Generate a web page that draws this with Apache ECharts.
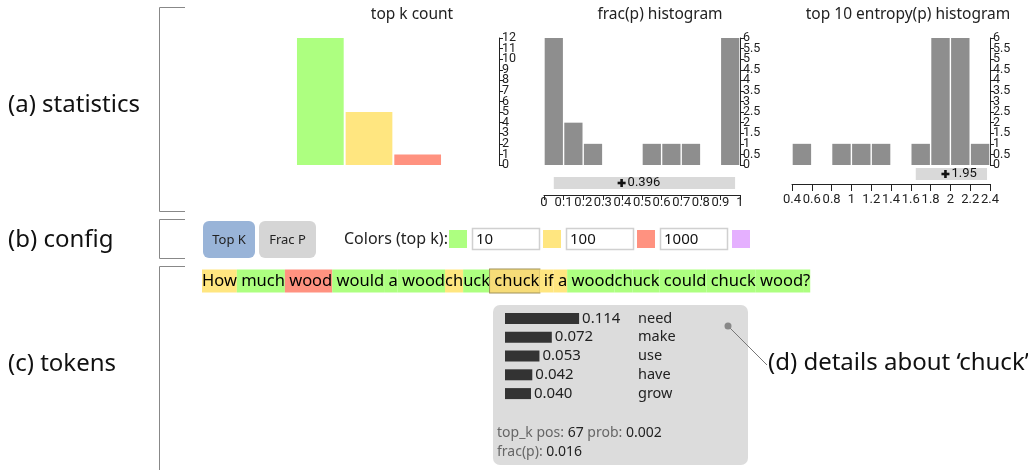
<!DOCTYPE html>
<html>
<head>
<meta charset="utf-8">
<script src="https://cdn.jsdelivr.net/npm/echarts@6/dist/echarts.min.js"></script>
<style>
html,body{margin:0;padding:0;background:#fff;}
#c{width:1028px;height:470px;}
</style>
</head>
<body>
<div id="c"></div>
<script>
// ---------------- data ----------------
const topkBins = ['10', '100', '1000'];
const topkCounts = [12, 5, 1];
const topkColors = ['#ADFF80', '#FFE680', '#FF9280', '#E5B0FF'];
const topkThresholds = ['10', '100', '1000'];
const topkTicks = ['0','1','2','3','4','5','6','7','8','9','10','11','12'];

const fracBins = ['0-0.1','0.1-0.2','0.2-0.3','0.3-0.4','0.4-0.5','0.5-0.6','0.6-0.7','0.7-0.8','0.8-0.9','0.9-1'];
const fracCounts = [6, 2, 1, 0, 0, 1, 1, 1, 0, 6];
const fracSummary = [0.05, 0.975, 0.396];      // [low, high, mean]

const entBins = ['0.4','0.6','0.8','1.0','1.2','1.4','1.6','1.8','2.0','2.2'];
const entCounts = [1, 0, 1, 1, 1, 0, 1, 6, 6, 1];
const entSummary = [1.65, 2.37, 1.95];         // [low, high, mean]

const histTicks = ['0','0.5','1','1.5','2','2.5','3','3.5','4','4.5','5','5.5','6'];

const tokens = ['How', ' much', ' wood', ' would', ' a', ' wood', 'ch', 'uck', ' chuck', ' if', ' a', ' wood', 'ch', 'uck', ' could', ' chuck', ' wood', '?'];
const tokenBin = [1, 0, 2, 0, 0, 0, 1, 0, 1, 1, 1, 0, 0, 0, 0, 0, 0, 0];
const selectedToken = 8;

const predWords = ['need', 'make', 'use', 'have', 'grow'];
const predProbs = [0.114, 0.072, 0.053, 0.042, 0.040];
const detailPos = 67, detailProb = '0.002', detailFrac = '0.016';

// ---------------- build ----------------
const FONT = '"Noto Sans", "Open Sans", sans-serif';
const AXF = 'Roboto, "Noto Sans", sans-serif';
const chart = echarts.init(document.getElementById('c'), null, {renderer: 'canvas'});

function summaryRender(offTop, offBot) {
  return function (params, api) {
    const lo = api.value(0), hi = api.value(1), m = api.value(2);
    const p0 = api.coord([lo, 0]), p1 = api.coord([hi, 0]), pm = api.coord([m, 0]);
    const y0 = p0[1] + offTop, y1 = p0[1] + offBot, ym = (y0 + y1) / 2;
    return {
      type: 'group',
      children: [
        {type: 'rect', shape: {x: p0[0], y: y0, width: p1[0] - p0[0], height: y1 - y0}, style: {fill: '#d9d9d9'}},
        {type: 'rect', shape: {x: pm[0] - 4, y: ym - 1.3, width: 8, height: 2.6}, style: {fill: '#111'}},
        {type: 'rect', shape: {x: pm[0] - 1.3, y: ym - 4, width: 2.6, height: 8}, style: {fill: '#111'}},
        {type: 'text', x: pm[0] + 6, y: ym, style: {text: String(m), fill: '#111', font: '13px ' + AXF, textVerticalAlign: 'middle'}}
      ]
    };
  };
}

const axisLineStyle = {lineStyle: {color: '#222', width: 1}};
// hidden value axis that scales the bars
const yValueAxis = (gi, max) => ({type: 'value', gridIndex: gi, min: 0, max: max, show: false});
// visible tick-label axis drawn on the right side (every tick labelled)
const yTickAxis = (gi, ticks, offset) => ({
  type: 'category', gridIndex: gi, data: ticks, boundaryGap: false, position: 'right', offset: offset,
  axisLine: Object.assign({show: true}, axisLineStyle),
  axisTick: {show: true, length: 4, interval: 0, lineStyle: {color: '#222'}},
  splitLine: {show: false},
  axisLabel: {interval: 0, margin: 3, color: '#222', fontSize: 12.5, fontFamily: AXF, lineHeight: 9}
});

// token rich text
const rich = {};
let tokText = '';
tokens.forEach((t, i) => {
  const key = 't' + i;
  rich[key] = {
    backgroundColor: topkColors[tokenBin[i]],
    padding: [3, 0, 3, 0],
    fontSize: 16.5, fontFamily: FONT, color: '#111', lineHeight: 22
  };
  if (i === selectedToken) {
    rich[key].backgroundColor = '#F6DC78';
    rich[key].borderColor = '#A0925A';
    rich[key].borderWidth = 1;
  }
  tokText += '{' + key + '|' + t + '}';
});

const graphics = [
  // section brackets
  {type: 'polyline', shape: {points: [[185, 7.5], [159.5, 7.5], [159.5, 211.5], [185, 211.5]]}, style: {stroke: '#888', lineWidth: 1, fill: null}},
  {type: 'polyline', shape: {points: [[185, 219.5], [159.5, 219.5], [159.5, 258.5], [185, 258.5]]}, style: {stroke: '#888', lineWidth: 1, fill: null}},
  {type: 'polyline', shape: {points: [[185, 266.5], [159.5, 266.5], [159.5, 470]]}, style: {stroke: '#888', lineWidth: 1, fill: null}},
  {type: 'text', x: 8, y: 105, style: {text: '(a) statistics', font: '24px ' + FONT, fill: '#111', textVerticalAlign: 'middle'}},
  {type: 'text', x: 8, y: 240, style: {text: '(b) config', font: '24px ' + FONT, fill: '#111', textVerticalAlign: 'middle'}},
  {type: 'text', x: 8, y: 364, style: {text: '(c) tokens', font: '24px ' + FONT, fill: '#111', textVerticalAlign: 'middle'}},
  // titles
  {type: 'text', x: 412, y: 15, style: {text: 'top k count', font: '15.5px ' + FONT, fill: '#222', textAlign: 'center', textVerticalAlign: 'middle'}},
  {type: 'text', x: 660, y: 15, style: {text: 'frac(p) histogram', font: '15.5px ' + FONT, fill: '#222', textAlign: 'center', textVerticalAlign: 'middle'}},
  {type: 'text', x: 908, y: 15, style: {text: 'top 10 entropy(p) histogram', font: '15.5px ' + FONT, fill: '#222', textAlign: 'center', textVerticalAlign: 'middle'}},
  // config buttons
  {type: 'rect', shape: {x: 203, y: 221, width: 52, height: 37, r: 6}, style: {fill: '#99B4D8'}},
  {type: 'text', x: 229, y: 240, style: {text: 'Top K', font: '13px ' + FONT, fill: '#222', textAlign: 'center', textVerticalAlign: 'middle'}},
  {type: 'rect', shape: {x: 259, y: 221, width: 57, height: 37, r: 6}, style: {fill: '#D5D5D5'}},
  {type: 'text', x: 287.5, y: 240, style: {text: 'Frac P', font: '13px ' + FONT, fill: '#222', textAlign: 'center', textVerticalAlign: 'middle'}},
  {type: 'text', x: 344, y: 239, style: {text: 'Colors (top k):', font: '16px ' + FONT, fill: '#222', textVerticalAlign: 'middle'}},
  // token sentence
  {type: 'text', x: 202, y: 270, style: {text: tokText, rich: rich, font: '16.5px ' + FONT, textVerticalAlign: 'top'}},
  // details box
  {type: 'rect', shape: {x: 493, y: 305, width: 255, height: 160, r: 7}, style: {fill: '#DCDCDC'}, z: -1},
  {type: 'text', x: 497, y: 433, style: {
    text: '{l|top_k pos: }{v|' + detailPos + '}{l| prob: }{v|' + detailProb + '}',
    rich: {l: {fill: '#666', fontSize: 14, fontFamily: FONT}, v: {fill: '#222', fontSize: 14, fontFamily: FONT}},
    textVerticalAlign: 'middle'}},
  {type: 'text', x: 497, y: 452, style: {
    text: '{l|frac(p): }{v|' + detailFrac + '}',
    rich: {l: {fill: '#666', fontSize: 14, fontFamily: FONT}, v: {fill: '#222', fontSize: 14, fontFamily: FONT}},
    textVerticalAlign: 'middle'}},
  // callout
  {type: 'line', shape: {x1: 728, y1: 326, x2: 767, y2: 365}, style: {stroke: '#777', lineWidth: 1}},
  {type: 'circle', shape: {cx: 728, cy: 326, r: 3.5}, style: {fill: '#888'}},
  {type: 'text', x: 768, y: 363, style: {text: '(d) details about \u2018chuck\u2019', font: '24px ' + FONT, fill: '#111', textVerticalAlign: 'middle'}}
];

// colour swatches + threshold inputs
const swX = [449, 543, 637, 732];
const inX = [472, 566, 660];
topkColors.forEach((c, i) => {
  graphics.push({type: 'rect', shape: {x: swX[i], y: 230, width: 18, height: 18}, style: {fill: c}});
});
topkThresholds.forEach((t, i) => {
  graphics.push({type: 'rect', shape: {x: inX[i] + 0.5, y: 228.5, width: 67, height: 21}, style: {fill: '#fff', stroke: '#D0D0D0', lineWidth: 1.5}});
  graphics.push({type: 'text', x: inX[i] + 4, y: 239.5, style: {text: t, font: '15px ' + FONT, fill: '#111', textVerticalAlign: 'middle'}});
});

const option = {
  animation: false,
  backgroundColor: '#fff',
  grid: [
    {left: 296, top: 38, width: 146, height: 127, outerBoundsMode: 'none'},
    {left: 544, top: 38, width: 196, height: 127, outerBoundsMode: 'none'},
    {left: 792, top: 38, width: 198, height: 127, outerBoundsMode: 'none'},
    {left: 505, top: 309, width: 78, height: 94, outerBoundsMode: 'none'}
  ],
  xAxis: [
    {type: 'category', gridIndex: 0, data: topkBins, show: false},
    {type: 'category', gridIndex: 1, data: fracBins, show: false},
    {type: 'value', gridIndex: 1, min: 0, max: 1, interval: 0.1, position: 'bottom', offset: 30,
      axisLine: Object.assign({show: true}, axisLineStyle), axisTick: {show: true, length: 5, lineStyle: {color: '#222'}},
      splitLine: {show: false},
      axisLabel: {color: '#222', fontSize: 13, fontFamily: AXF, margin: 1, showMinLabel: true, showMaxLabel: true,
        formatter: v => String(+v.toFixed(1))}},
    {type: 'category', gridIndex: 2, data: entBins, show: false},
    {type: 'value', gridIndex: 2, min: 0.4, max: 2.4, interval: 0.2, position: 'bottom', offset: 19,
      axisLine: Object.assign({show: true}, axisLineStyle), axisTick: {show: true, length: 7, lineStyle: {color: '#222'}},
      splitLine: {show: false},
      axisLabel: {color: '#222', fontSize: 13, fontFamily: AXF, margin: 9, showMinLabel: true, showMaxLabel: true,
        formatter: v => String(+v.toFixed(1))}},
    {type: 'value', gridIndex: 3, min: 0, max: 0.12, show: false}
  ],
  yAxis: [
    yValueAxis(0, 12),
    yValueAxis(1, 6),
    yValueAxis(2, 6),
    {type: 'category', gridIndex: 3, data: predWords, inverse: true, position: 'right',
      axisLine: {show: false}, axisTick: {show: false},
      axisLabel: {color: '#222', fontSize: 14.5, fontFamily: FONT, margin: 55, align: 'left', interval: 0}},
    yTickAxis(0, topkTicks, 57),
    yTickAxis(1, histTicks, 0),
    yTickAxis(2, histTicks, 0)
  ],
  series: [
    {type: 'bar', xAxisIndex: 0, yAxisIndex: 0, barCategoryGap: '4%',
      data: topkCounts.map((v, i) => ({value: v, itemStyle: {color: topkColors[i]}}))},
    {type: 'bar', xAxisIndex: 1, yAxisIndex: 1, barCategoryGap: '7%', data: fracCounts, itemStyle: {color: '#8E8E8E'}},
    {type: 'bar', xAxisIndex: 3, yAxisIndex: 2, barCategoryGap: '7%', data: entCounts, itemStyle: {color: '#8E8E8E'}},
    {type: 'custom', xAxisIndex: 2, yAxisIndex: 1, clip: false, renderItem: summaryRender(12, 24), data: [fracSummary], z: 3},
    {type: 'custom', xAxisIndex: 4, yAxisIndex: 2, clip: false, renderItem: summaryRender(3, 15), data: [entSummary], z: 3},
    {type: 'bar', xAxisIndex: 5, yAxisIndex: 3, barWidth: 11, data: predProbs, itemStyle: {color: '#333'},
      label: {show: true, position: 'right', distance: 3, color: '#222', fontSize: 15, fontFamily: FONT,
        formatter: p => p.value.toFixed(3)}}
  ],
  graphic: graphics
};
chart.setOption(option);
</script>
</body>
</html>
